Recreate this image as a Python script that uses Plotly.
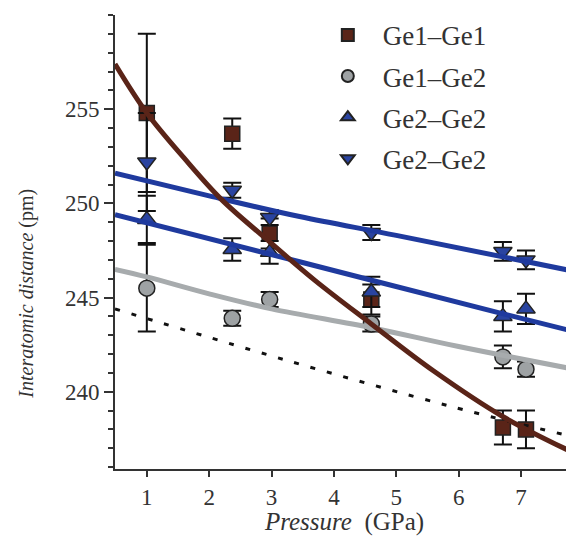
import plotly.graph_objects as go

# ---- data ----
pressure = [1.0, 2.37, 2.97, 4.6, 6.71, 7.08]

ge11 = [254.8, 253.7, 248.4, 244.9, 238.1, 238.0]
ge11_err = [4.2, 0.8, 0.8, 0.8, 0.9, 1.0]

ge12 = [245.5, 243.9, 244.9, 243.6, 241.85, 241.2]
ge12_err = [2.3, 0.4, 0.4, 0.4, 0.6, 0.4]

ge22_up = [249.15, 247.55, 247.4, 245.3, 244.0, 244.4]
ge22_up_err = [1.25, 0.6, 0.6, 0.8, 0.8, 0.8]

ge22_dn = [252.2, 250.7, 249.25, 248.45, 247.45, 247.0]
ge22_dn_err = [2.6, 0.4, 0.4, 0.4, 0.5, 0.5]

# fitted curves (read at several pressures)
fit11_p = [0.49, 1.0, 1.6, 2.2, 2.92, 3.7, 4.6, 5.6, 6.7, 7.85]
fit11_v = [257.4, 254.8, 252.4, 250.2, 248.1, 245.9, 243.6, 241.1, 238.7, 236.75]

fit12_p = [0.49, 1.0, 2.0, 3.0, 4.6, 6.0, 7.85]
fit12_v = [246.5, 246.1, 245.2, 244.4, 243.4, 242.4, 241.2]

fit22up_p = [0.49, 3.45, 6.7, 7.85]
fit22up_v = [249.4, 246.9, 244.15, 243.2]

fit22dn_p = [0.49, 2.0, 3.45, 5.0, 7.85]
fit22dn_v = [251.6, 250.4, 249.3, 248.3, 246.4]

dot_p = [0.49, 3.21, 5.9, 7.85]
dot_v = [244.4, 241.7, 239.2, 237.6]

names = ["Ge1\u2013Ge1", "Ge1\u2013Ge2", "Ge2\u2013Ge2", "Ge2\u2013Ge2"]
x_title = "<i>Pressure</i>  (GPa)"
y_title = "<i>Interatomic distance</i> (pm)"

# ---- styles ----
BROWN = "#5a2418"
GRAY = "#a7abad"
BLUE = "#1f3a9e"
MBLUE = "#2a44a0"
EDGE = "#222222"
FONT = "Liberation Serif"

fig = go.Figure()

series = [
    (ge11, ge11_err, "square", BROWN, 15),
    (ge12, ge12_err, "circle", "#9ea2a4", 16),
    (ge22_up, ge22_up_err, "triangle-up", MBLUE, 16),
    (ge22_dn, ge22_dn_err, "triangle-down", MBLUE, 16),
]
for i, (vals, err, sym, col, sz) in enumerate(series):
    fig.add_trace(go.Scatter(
        x=pressure, y=vals, mode="markers", name=names[i],
        legendgroup=str(i),
        marker=dict(symbol=sym, color=col, size=sz,
                    line=dict(color=EDGE, width=1.5)),
        error_y=dict(type="data", array=err, visible=True,
                     color="#111111", thickness=2, width=9),
    ))

fig.add_trace(go.Scatter(x=dot_p, y=dot_v, mode="lines", showlegend=False,
                         line=dict(color="#111111", width=3, dash="5px,12px", shape="spline")))
fig.add_trace(go.Scatter(x=fit12_p, y=fit12_v, mode="lines", showlegend=False,
                         line=dict(color=GRAY, width=5, shape="spline")))
fig.add_trace(go.Scatter(x=fit22up_p, y=fit22up_v, mode="lines", showlegend=False,
                         line=dict(color=BLUE, width=5, shape="spline")))
fig.add_trace(go.Scatter(x=fit22dn_p, y=fit22dn_v, mode="lines", showlegend=False,
                         line=dict(color=BLUE, width=5, shape="spline")))
fig.add_trace(go.Scatter(x=fit11_p, y=fit11_v, mode="lines", showlegend=False,
                         line=dict(color=BROWN, width=5, shape="spline")))

# the page body adds an 8px margin, so the figure is 8px smaller than the window
fig.update_layout(
    width=566, height=528,
    margin=dict(l=107, r=0, t=7, b=67),
    paper_bgcolor="white", plot_bgcolor="white",
    font=dict(family=FONT, color="#333333", size=23),
    legend=dict(x=0.431, y=1.009, xanchor="left", yanchor="top",
                font=dict(size=27, family=FONT, color="#333333"),
                bgcolor="rgba(0,0,0,0)", tracegroupgap=3, itemsizing="constant",
                itemwidth=60),
    xaxis=dict(range=[0.49, 7.85], tickvals=[1, 2, 3, 4, 5, 6, 7],
               automargin=False,
               showgrid=False, zeroline=False, showline=True,
               linecolor="#333333", linewidth=2,
               ticks="outside", ticklen=6, tickwidth=2, tickcolor="#333333",
               tickfont=dict(size=23, family=FONT),
               title=dict(text=x_title, font=dict(size=25, family=FONT),
                          standoff=2)),
    yaxis=dict(range=[235.9, 260.0], tickvals=[240, 245, 250, 255],
               automargin=False,
               showgrid=False, zeroline=False, showline=True,
               linecolor="#333333", linewidth=2,
               ticks="outside", ticklen=9, tickwidth=2, tickcolor="#333333",
               minor=dict(dtick=1, tick0=0, ticks="outside", ticklen=5,
                          tickwidth=1.5, tickcolor="#333333"),
               tickfont=dict(size=23, family=FONT)),
    annotations=[dict(text=y_title, textangle=-90, xref="paper", yref="paper",
                      x=-0.192, y=0.386, xanchor="center", yanchor="middle",
                      showarrow=False, font=dict(size=20, family=FONT, color="#333333"))],
)

fig.write_html("out.html")
